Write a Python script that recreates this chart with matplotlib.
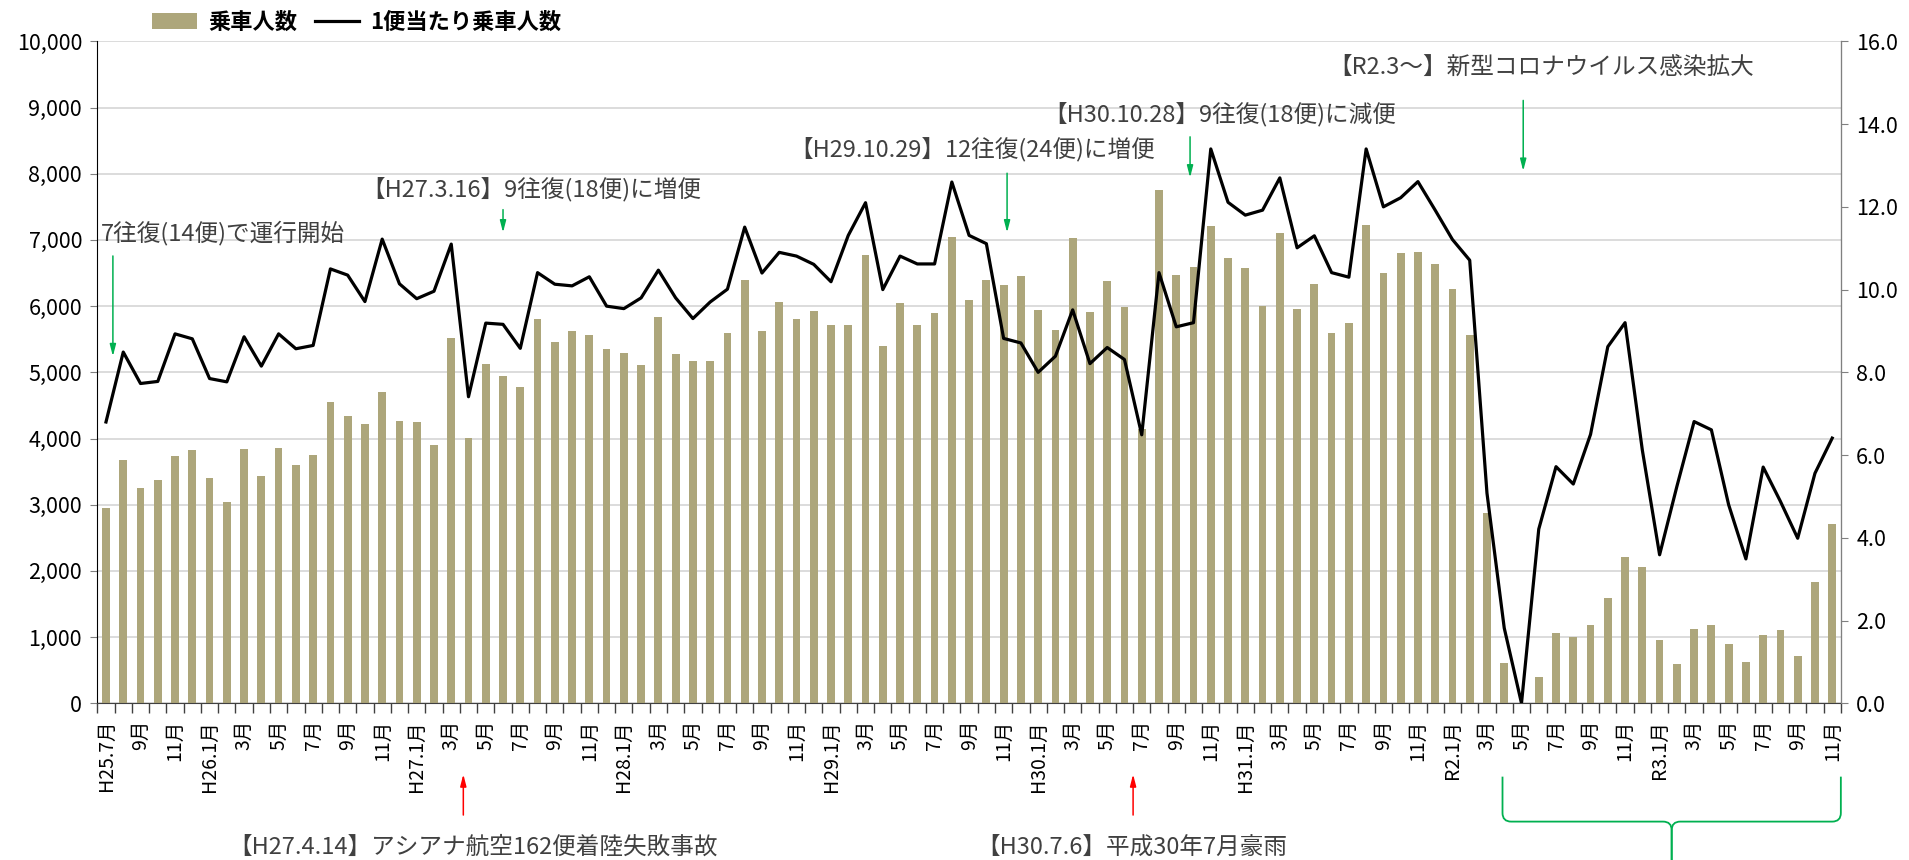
import numpy as np
import matplotlib
matplotlib.use("Agg")
import matplotlib.pyplot as plt
from matplotlib.patches import Patch, PathPatch
from matplotlib.lines import Line2D
from matplotlib.path import Path
from matplotlib.ticker import FuncFormatter

plt.rcParams['font.family'] = ['Noto Sans CJK JP', 'DejaVu Sans']

# 月別 乗車人数 (H25.7 ～ R3.11)
passengers = [
    2950, 3680, 3250, 3380, 3740, 3820, 3400, 3040, 3840, 3430, 3860, 3600,
    3750, 4550, 4340, 4220, 4710, 4270, 4250, 3900, 5520, 4010, 5120, 4940,
    4780, 5800, 5460, 5620, 5560, 5350, 5290, 5110, 5830, 5280, 5170, 5170,
    5590, 6390, 5630, 6070, 5810, 5930, 5710, 5710, 6780, 5400, 6040, 5710,
    5900, 7040, 6090, 6390, 6320, 6460, 5940, 5640, 7030, 5910, 6380, 5990,
    4150, 7760, 6470, 6590, 7210, 6720, 6580, 6000, 7100, 5950, 6330, 5590,
    5750, 7230, 6500, 6810, 6820, 6640, 6260, 5560, 2870, 610, 0, 400,
    1060, 1000, 1180, 1590, 2210, 2060, 960, 590, 1120, 1190, 900, 630,
    1030, 1100, 720, 1840, 2710,
]

# 1便当たり乗車人数
per_flight = [
    6.80, 8.49, 7.73, 7.78, 8.93, 8.81, 7.85, 7.77, 8.86, 8.15, 8.93, 8.57,
    8.65, 10.50, 10.35, 9.71, 11.22, 10.14, 9.78, 9.96, 11.10, 7.41, 9.19, 9.16,
    8.58, 10.41, 10.13, 10.09, 10.31, 9.60, 9.54, 9.80, 10.47, 9.80, 9.30, 9.70,
    10.01, 11.51, 10.40, 10.90, 10.81, 10.61, 10.19, 11.31, 12.10, 10.00, 10.81, 10.62,
    10.62, 12.60, 11.31, 11.11, 8.82, 8.71, 8.00, 8.39, 9.51, 8.21, 8.60, 8.31,
    6.49, 10.41, 9.10, 9.20, 13.40, 12.11, 11.80, 11.92, 12.70, 11.01, 11.30, 10.41,
    10.30, 13.40, 12.00, 12.22, 12.61, 11.92, 11.21, 10.71, 5.08, 1.82, 0.00, 4.21,
    5.72, 5.30, 6.50, 8.62, 9.20, 6.12, 3.59, 5.24, 6.81, 6.61, 4.80, 3.49,
    5.71, 4.88, 3.99, 5.56, 6.41,
]

# 2か月ごとの目盛ラベル
month_labels = [
    "H25.7月", "9月", "11月",
    "H26.1月", "3月", "5月", "7月", "9月", "11月",
    "H27.1月", "3月", "5月", "7月", "9月", "11月",
    "H28.1月", "3月", "5月", "7月", "9月", "11月",
    "H29.1月", "3月", "5月", "7月", "9月", "11月",
    "H30.1月", "3月", "5月", "7月", "9月", "11月",
    "H31.1月", "3月", "5月", "7月", "9月", "11月",
    "R2.1月", "3月", "5月", "7月", "9月", "11月",
    "R3.1月", "3月", "5月", "7月", "9月", "11月",
]

bar_color = '#ADA67B'
green = '#00B050'
text_gray = '#404040'

n = len(passengers)
x = np.arange(n)

fig = plt.figure(figsize=(19.09, 8.6), dpi=100)
ax = fig.add_axes([0.051, 0.1822, 0.9133, 0.7697])
ax2 = ax.twinx()

ax.bar(x, passengers, width=0.45, color=bar_color, zorder=2)
ax2.plot(x, per_flight, color='black', lw=2.3, zorder=3)

ax.set_xlim(-0.5, n - 0.5)
ax.set_ylim(0, 10000)
ax2.set_ylim(0, 16)
ax.set_yticks(np.arange(0, 10001, 1000))
ax2.set_yticks(np.arange(0, 16.1, 2))
ax.yaxis.set_major_formatter(FuncFormatter(lambda v, p: f"{int(v):,}"))
ax2.yaxis.set_major_formatter(FuncFormatter(lambda v, p: f"{v:.1f}"))

ax.set_axisbelow(True)
ax.grid(axis='y', color='#D9D9D9', lw=1.3, zorder=0)

# x軸: 境界に目盛, 2か月ごとにラベル
ax.set_xticks(np.arange(-0.5, n, 1))
ax.set_xticklabels([])
ax.set_xticks(np.arange(0, n, 2), minor=True)
ax.set_xticklabels(month_labels, minor=True, rotation=90, fontsize=14)
ax.tick_params(axis='x', which='major', length=7, width=1, color='#404040')
ax.tick_params(axis='x', which='minor', length=0, pad=12)

ax.tick_params(axis='y', labelsize=15.5, length=5, color='#808080', pad=6)
ax2.tick_params(axis='y', labelsize=15.5, length=5, color='#808080', pad=6)

for a in (ax, ax2):
    a.spines['top'].set_visible(False)
ax.spines['left'].set_color('black')
ax.spines['bottom'].set_color('#404040')
ax2.spines['right'].set_color('#808080')
ax2.spines['left'].set_visible(False)
ax2.spines['bottom'].set_visible(False)

# 凡例
handles = [Patch(facecolor=bar_color, edgecolor='none'),
           Line2D([0], [0], color='black', lw=2.3)]
fig.legend(handles, ['乗車人数', '1便当たり乗車人数'], loc='center left',
           bbox_to_anchor=(0.074, 0.974), ncol=2, frameon=False,
           prop={'size': 16, 'weight': 'bold'},
           handlelength=2.0, handletextpad=0.5, columnspacing=0.8, borderpad=0)

# 注記 (上側)
notes_top = [
    ("7往復(14便)で運行開始", -0.3, 7100, 0.4, 6800, 5200),
    ("【H27.3.16】9往復(18便)に増便", 14.8, 7770, 23.0, 7500, 7070),
    ("【H29.10.29】12往復(24便)に増便", 39.6, 8377, 52.2, 8050, 7070),
    ("【H30.10.28】9往復(18便)に減便", 54.3, 8905, 62.8, 8600, 7900),
    ("【R2.3～】新型コロナウイルス感染拡大", 70.8, 9604, 82.1, 9150, 8000),
]
for txt, tx, ty, ax_x, y0, y1 in notes_top:
    ax.text(tx, ty, txt, fontsize=17, color=text_gray, ha='left', va='center', zorder=5)
    ax.annotate('', xy=(ax_x, y1), xytext=(ax_x, y0),
                arrowprops=dict(arrowstyle='-|>,head_width=0.18,head_length=0.7',
                                color=green, lw=1.1), zorder=5)

# 注記 (下側)
notes_bottom = [
    ("【H27.4.14】アシアナ航空162便着陸失敗事故", 7.1, 20.7),
    ("【H30.7.6】平成30年7月豪雨", 50.4, 59.5),
]
for txt, tx, arr_x in notes_bottom:
    ax.text(tx, -2170, txt, fontsize=17, color=text_gray, ha='left', va='center',
            clip_on=False)
    ax.annotate('', xy=(arr_x, -1030), xytext=(arr_x, -1730),
                arrowprops=dict(arrowstyle='-|>,head_width=0.18,head_length=0.7',
                                color='red', lw=1.1), annotation_clip=False)

# コロナ期間の括弧
xl, xr, xm = 80.9, 100.5, 90.7
yt, yh, yb = -1108, -1787, -2400
rx, ry = 0.5, 130
verts = [(xl, yt), (xl, yh + ry), (xl, yh), (xl + rx, yh),
         (xm - rx, yh), (xm, yh), (xm, yh - ry), (xm, yb)]
codes = [Path.MOVETO, Path.LINETO, Path.CURVE3, Path.CURVE3,
         Path.LINETO, Path.CURVE3, Path.CURVE3, Path.LINETO]
verts2 = [(xr, yt), (xr, yh + ry), (xr, yh), (xr - rx, yh),
          (xm + rx, yh), (xm, yh), (xm, yh - ry), (xm, yb)]
for vv in (verts, verts2):
    ax.add_patch(PathPatch(Path(vv, codes), fill=False, edgecolor=green,
                           lw=1.3, clip_on=False))

fig.savefig('out.png', dpi=100)
